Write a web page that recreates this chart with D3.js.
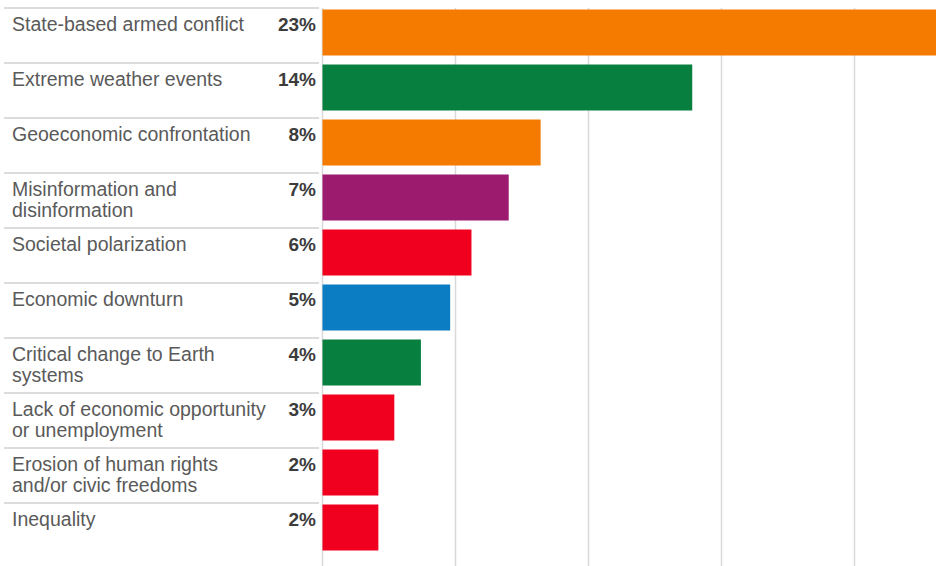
<!DOCTYPE html>
<html>
<head>
<meta charset="utf-8">
<script src="https://cdn.jsdelivr.net/npm/d3@7"></script>
<style>
  html, body { margin: 0; padding: 0; background: #fff; }
  svg { display: block; }
  text { font-family: "Liberation Sans", Arial, Helvetica, sans-serif; }
</style>
</head>
<body>
<script>
// ---- data ----
const categories = [
  ["State-based armed conflict"],
  ["Extreme weather events"],
  ["Geoeconomic confrontation"],
  ["Misinformation and", "disinformation"],
  ["Societal polarization"],
  ["Economic downturn"],
  ["Critical change to Earth", "systems"],
  ["Lack of economic opportunity", "or unemployment"],
  ["Erosion of human rights", "and/or civic freedoms"],
  ["Inequality"]
];
const values = [23.2, 13.9, 8.2, 7.0, 5.6, 4.8, 3.7, 2.7, 2.1, 2.1];
const valueLabels = ["23%", "14%", "8%", "7%", "6%", "5%", "4%", "3%", "2%", "2%"];
const riskTypes = ["Geopolitical", "Environmental", "Geopolitical", "Technological", "Societal",
                   "Economic", "Environmental", "Societal", "Societal", "Societal"];
const typeNames = ["Geopolitical", "Environmental", "Technological", "Societal", "Economic"];
const gridTicks = [0, 5, 10, 15, 20];

// ---- layout ----
const W = 936, H = 566;
const x0 = 322;
const color = d3.scaleOrdinal().domain(typeNames)
  .range(["#F57B00", "#07803F", "#9C1B6E", "#F0001E", "#0B7DC2"]);

const svg = d3.select("body").append("svg").attr("width", W).attr("height", H);

const x = d3.scaleLinear().domain([0, 20]).range([x0, x0 + 532]);
const idx = d3.range(categories.length);
const y = d3.scaleBand().domain(idx).range([8, 8 + 55 * categories.length]).padding(0);

// vertical grid lines
svg.append("g")
  .attr("transform", "translate(0,8)")
  .call(d3.axisTop(x).tickValues(gridTicks).tickSize(-(H - 8)).tickFormat(""))
  .call(g => g.select(".domain").remove())
  .call(g => g.selectAll(".tick line").attr("stroke", "#d9d9d9").attr("stroke-width", 1.5));

// row separators
svg.append("g").selectAll("line").data(idx).join("line")
  .attr("x1", 4).attr("x2", x0 - 3)
  .attr("y1", i => y(i)).attr("y2", i => y(i))
  .attr("stroke", "#d0d0d0").attr("stroke-width", 1.5);

// bars
svg.append("g").selectAll("rect").data(idx).join("rect")
  .attr("x", x(0) + 0.5)
  .attr("y", i => y(i) + 1.5)
  .attr("width", i => x(values[i]) - x(0))
  .attr("height", y.bandwidth() - 9)
  .attr("fill", i => color(riskTypes[i]));

// category labels
const lab = svg.append("g").selectAll("text").data(idx).join("text")
  .attr("x", 12)
  .attr("y", i => y(i) + 23)
  .attr("fill", "#5a5a5a")
  .attr("font-size", 19.5);
lab.selectAll("tspan").data(i => categories[i]).join("tspan")
  .attr("x", 12)
  .attr("dy", (d, j) => j === 0 ? 0 : 21)
  .text(d => d);

// value labels
svg.append("g").selectAll("text").data(idx).join("text")
  .attr("x", x0 - 6)
  .attr("y", i => y(i) + 23)
  .attr("text-anchor", "end")
  .attr("fill", "#3c3c3c")
  .attr("font-size", 19)
  .attr("font-weight", 700)
  .text(i => valueLabels[i]);
</script>
</body>
</html>
